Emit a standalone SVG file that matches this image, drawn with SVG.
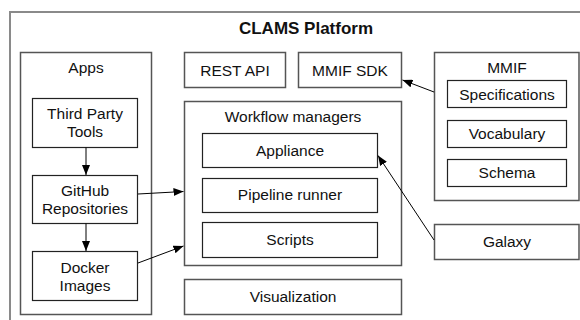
<svg xmlns="http://www.w3.org/2000/svg" width="580" height="320" viewBox="0 0 580 320">
  <defs>
    <marker id="arr" viewBox="0 0 10 8" refX="10" refY="4" markerWidth="10" markerHeight="8" markerUnits="userSpaceOnUse" orient="auto">
      <path d="M0,0 L10,4 L0,8 Z" fill="#000"/>
    </marker>
    <style>
      text { font-family: "Liberation Sans", Arial, Helvetica, sans-serif; font-size: 15.5px; fill: #111; text-anchor: middle; }
      .title { font-weight: bold; font-size: 17px; }
      .frame { fill: none; stroke: #8a8a8a; stroke-width: 2; }
      .cont { fill: #fff; stroke: #555; stroke-width: 1.5; }
      .box { fill: #fff; stroke: #222; stroke-width: 1.2; }
      .conn { fill: none; stroke: #000; stroke-width: 1; marker-end: url(#arr); }
    </style>
  </defs>
  <rect width="580" height="320" fill="#fff"/>

  <g id="platform">
    <rect class="frame" x="10" y="12" width="620" height="340"/>
    <text class="title" x="306" y="34">CLAMS Platform</text>
  </g>

  <g id="apps">
    <rect class="cont" x="20.5" y="52.5" width="131" height="262"/>
    <text x="86" y="73">Apps</text>
  </g>
  <g id="third-party">
    <rect class="box" x="32.5" y="98.5" width="105" height="49"/>
    <text x="85" y="119">Third Party</text>
    <text x="85" y="137">Tools</text>
  </g>
  <g id="github">
    <rect class="box" x="32.5" y="175.5" width="105" height="48"/>
    <text x="85" y="196">GitHub</text>
    <text x="85" y="214">Repositories</text>
  </g>
  <g id="docker">
    <rect class="box" x="32.5" y="251.5" width="105" height="49"/>
    <text x="85" y="273">Docker</text>
    <text x="85" y="291">Images</text>
  </g>

  <g id="rest-api">
    <rect class="cont" x="184.5" y="52.5" width="101" height="35"/>
    <text x="235" y="76">REST API</text>
  </g>
  <g id="mmif-sdk">
    <rect class="cont" x="298.5" y="52.5" width="103" height="35"/>
    <text x="350" y="76">MMIF SDK</text>
  </g>

  <g id="workflow">
    <rect class="cont" x="184.5" y="101.5" width="217" height="164"/>
    <text x="293" y="122">Workflow managers</text>
  </g>
  <g id="appliance">
    <rect class="box" x="202.5" y="133.5" width="175" height="34"/>
    <text x="290" y="156">Appliance</text>
  </g>
  <g id="pipeline">
    <rect class="box" x="202.5" y="178.5" width="175" height="34"/>
    <text x="290" y="200">Pipeline runner</text>
  </g>
  <g id="scripts">
    <rect class="box" x="202.5" y="222.5" width="175" height="35"/>
    <text x="290" y="245">Scripts</text>
  </g>

  <g id="visualization">
    <rect class="cont" x="184.5" y="279.5" width="217" height="35"/>
    <text x="293" y="302">Visualization</text>
  </g>

  <g id="mmif">
    <rect class="cont" x="434.5" y="52.5" width="144.5" height="148"/>
    <text x="507" y="73">MMIF</text>
  </g>
  <g id="specifications">
    <rect class="box" x="447.5" y="80.5" width="119" height="27"/>
    <text x="507" y="100">Specifications</text>
  </g>
  <g id="vocabulary">
    <rect class="box" x="447.5" y="120.5" width="119" height="27"/>
    <text x="507" y="139">Vocabulary</text>
  </g>
  <g id="schema">
    <rect class="box" x="447.5" y="159.5" width="119" height="27"/>
    <text x="507" y="178">Schema</text>
  </g>

  <g id="galaxy">
    <rect class="cont" x="434.5" y="224.5" width="144.5" height="35"/>
    <text x="507" y="247">Galaxy</text>
  </g>

  <g id="connectors">
    <line class="conn" x1="86" y1="147.5" x2="86" y2="175"/>
    <line class="conn" x1="86" y1="223.5" x2="86" y2="251"/>
    <line class="conn" x1="138" y1="194" x2="183.5" y2="191.5"/>
    <line class="conn" x1="138" y1="263" x2="183.5" y2="246"/>
    <line class="conn" x1="434" y1="92" x2="402.5" y2="80"/>
    <line class="conn" x1="434" y1="240" x2="378" y2="155.5"/>
  </g>
</svg>
